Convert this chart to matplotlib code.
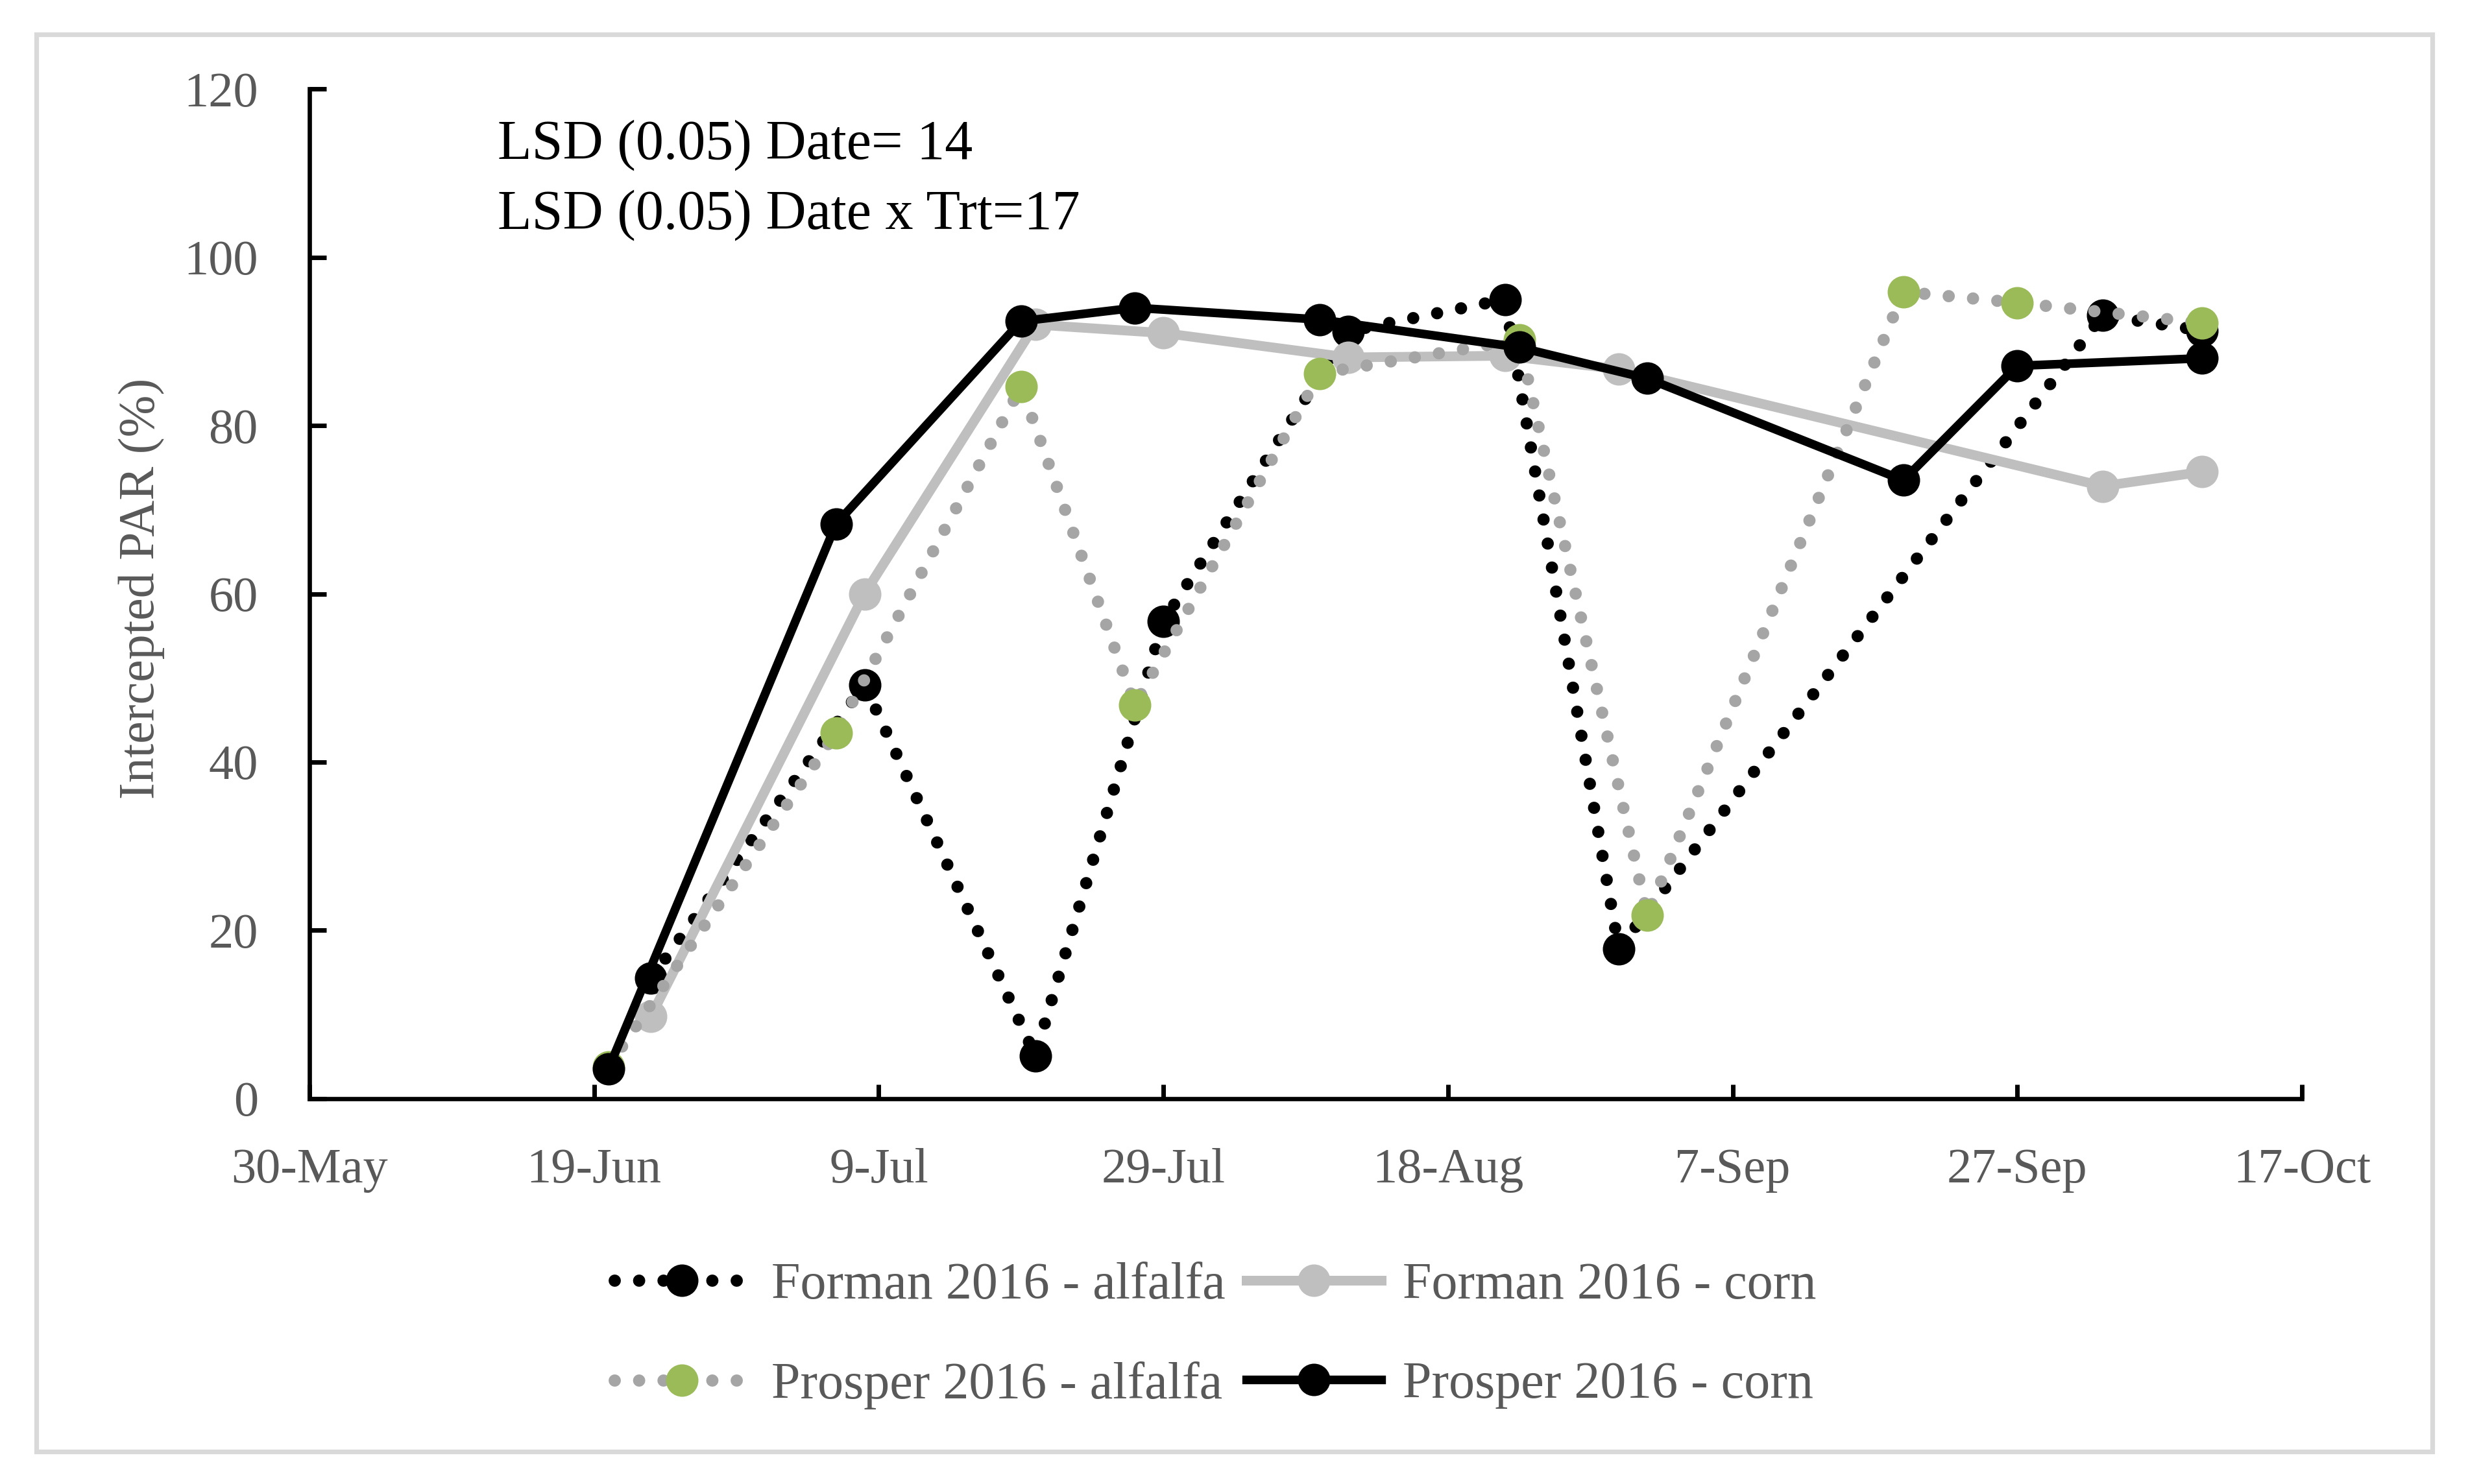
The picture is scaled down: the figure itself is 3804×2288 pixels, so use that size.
import matplotlib
matplotlib.use('Agg')
import matplotlib.pyplot as plt
import pandas as pd
from matplotlib.patches import Rectangle

# ---------------- data ----------------
forman_dates = ['2016-06-23', '2016-07-08', '2016-07-20', '2016-07-29', '2016-08-11',
                '2016-08-22', '2016-08-30', '2016-10-03', '2016-10-10']
forman_alfalfa = [14.3, 49.2, 5.1, 56.7, 91.2, 95.0, 17.8, 93.1, 91.3]
forman_corn = [9.8, 60.0, 92.0, 91.0, 88.1, 88.3, 86.7, 72.8, 74.5]

prosper_dates = ['2016-06-20', '2016-07-06', '2016-07-19', '2016-07-27', '2016-08-09',
                 '2016-08-23', '2016-09-01', '2016-09-19', '2016-09-27', '2016-10-10']
prosper_alfalfa = [3.8, 43.5, 84.6, 46.8, 86.2, 90.2, 21.8, 95.9, 94.6, 92.2]
prosper_corn = [3.5, 68.3, 92.4, 94.0, 92.6, 89.3, 85.6, 73.5, 87.1, 88.0]

series_labels = ['Forman 2016 - alfalfa', 'Forman 2016 - corn',
                 'Prosper 2016 - alfalfa', 'Prosper 2016 - corn']
x_tick_labels = ['30-May', '19-Jun', '9-Jul', '29-Jul', '18-Aug', '7-Sep', '27-Sep', '17-Oct']
y_ticks = [0, 20, 40, 60, 80, 100, 120]
lsd_lines = ['LSD (0.05) Date= 14', 'LSD (0.05) Date x Trt=17']
y_label = 'Intercepted PAR (%)'

# ---------------- style ----------------
plt.rcParams['font.family'] = ['Liberation Serif', 'DejaVu Serif']
GRAY_TXT = '#595959'
LIGHT = '#BFBFBF'
DOTGRAY = '#A5A5A5'
GREEN = '#9BBB59'
DOT = (0, (0.001, 1.99))

fig = plt.figure(figsize=(19.02, 11.44), dpi=200)
ax = fig.add_axes([0.1254, 0.2597, 0.8073, 0.6803])

fd = pd.to_datetime(forman_dates)
pdt = pd.to_datetime(prosper_dates)
tick_dates = pd.to_datetime([f'{t}-2016' for t in x_tick_labels], format='%d-%b-%Y')

fa, = ax.plot(fd, forman_alfalfa, color='black', lw=6.8, ls=DOT, dash_capstyle='round',
              marker='o', ms=17, mfc='black', mec='black', zorder=2, label=series_labels[0])
fc, = ax.plot(fd, forman_corn, color=LIGHT, lw=5.4, solid_joinstyle='round',
              marker='o', ms=17, mfc=LIGHT, mec=LIGHT, zorder=3, label=series_labels[1])
pa, = ax.plot(pdt, prosper_alfalfa, color=DOTGRAY, lw=6.8, ls=DOT, dash_capstyle='round',
              marker='o', ms=17, mfc=GREEN, mec=GREEN, zorder=4, label=series_labels[2])
pc, = ax.plot(pdt, prosper_corn, color='black', lw=4.8, solid_joinstyle='round',
              marker='o', ms=17, mfc='black', mec='black', zorder=5, label=series_labels[3])

ax.set_xlim(tick_dates[0], tick_dates[-1])
ax.set_ylim(y_ticks[0], y_ticks[-1])
ax.set_xticks(tick_dates)
ax.set_xticklabels(x_tick_labels)
ax.set_yticks(y_ticks)
ax.set_yticklabels([str(v) for v in y_ticks])

for s in ['top', 'right']:
    ax.spines[s].set_visible(False)
for s in ['left', 'bottom']:
    ax.spines[s].set_linewidth(2.4)
    ax.spines[s].set_color('black')

ax.tick_params(axis='both', direction='in', width=2.5, color='black',
               labelcolor=GRAY_TXT, labelsize=27.5)
ax.tick_params(axis='y', length=9.4, pad=28.5)
ax.tick_params(axis='x', length=8, pad=27.5)

fig.text(0.0573, 0.6034, y_label, rotation=90, ha='center', va='center',
         fontsize=28, color=GRAY_TXT)

ax.text(0.0944, 0.931, lsd_lines[0], transform=ax.transAxes, fontsize=31,
        ha='left', va='baseline', color='black')
ax.text(0.0944, 0.862, lsd_lines[1], transform=ax.transAxes, fontsize=31,
        ha='left', va='baseline', color='black')

fig.legend(handles=[fa, pa, fc, pc], ncol=2, loc='center',
           bbox_to_anchor=(0.4925, 0.0997), bbox_transform=fig.transFigure,
           frameon=False, fontsize=28.8, handlelength=2.6, handletextpad=0.42,
           columnspacing=0.4, labelspacing=1.0, labelcolor=GRAY_TXT,
           borderpad=0, numpoints=1)

fig.patches.append(Rectangle((0.01472, 0.02185), 0.98554 - 0.01472, 0.97684 - 0.02185,
                             transform=fig.transFigure, fill=False,
                             edgecolor='#D9D9D9', lw=2.6, zorder=0))

fig.savefig('out.png', dpi=200, facecolor='white')
